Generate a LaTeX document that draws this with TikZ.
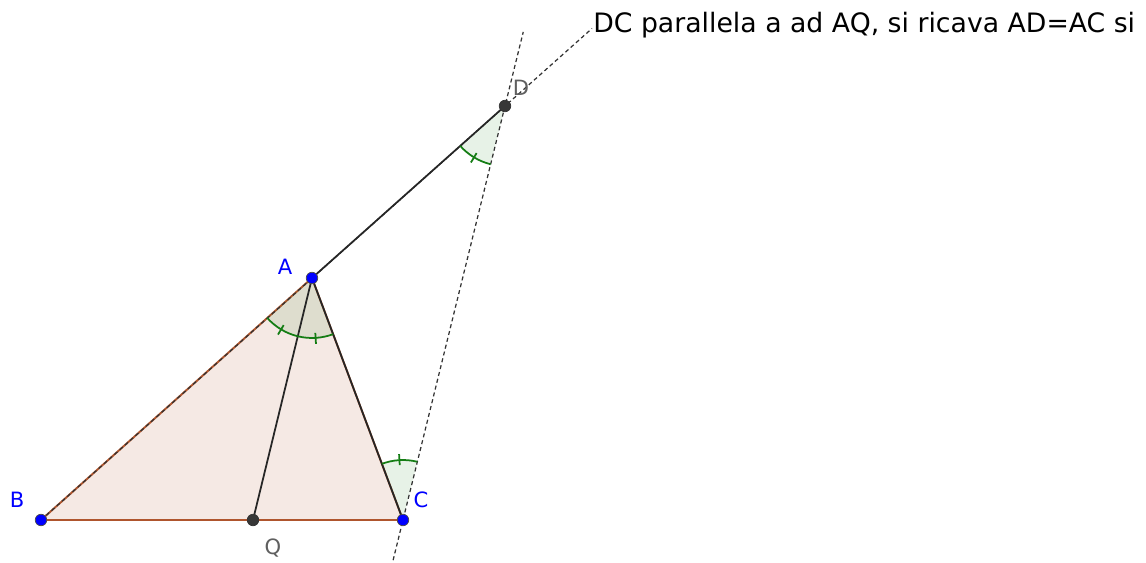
\documentclass[tikz,border=0pt]{standalone}
\usepackage{fontspec}
\setmainfont{DejaVu Sans}
\usetikzlibrary{calc}
\definecolor{polyedge}{RGB}{175,85,45}
\definecolor{polyfill}{RGB}{245,233,228}
\definecolor{anggreen}{RGB}{20,125,20}
\definecolor{ptblue}{RGB}{0,0,255}
\definecolor{ptgray}{RGB}{55,55,55}
\definecolor{lblgray}{RGB}{95,95,95}
\tikzset{
  aux/.style={dash pattern=on 2.3pt off 1.7pt, line width=0.7pt, black!80},
  seg/.style={line width=1pt, black!85},
  angfill/.style={fill=anggreen, fill opacity=0.1},
  angarc/.style={draw=anggreen, line width=1pt},
  lbl/.style={font=\fontsize{12pt}{14pt}\selectfont, inner sep=0pt},
}
\begin{document}
\begin{tikzpicture}[x=0.02cm, y=0.02cm]
  \useasboundingbox (0,0) rectangle (1146,562);
  % points
  \coordinate (A) at (312,284);
  \coordinate (B) at (41,42);
  \coordinate (C) at (403,42);
  \coordinate (Q) at (253,42);
  \coordinate (D) at (505,456);
  \coordinate (E) at ($(A)!1.451!(D)$);
  \coordinate (F) at ($(C)!1.179!(D)$);
  \coordinate (G) at ($(C)!-0.097!(D)$);
  % triangle
  \filldraw[fill=polyfill, draw=polyedge, line width=1.1pt] (B) -- (C) -- (A) -- cycle;
  % angles
  \foreach \p/\s/\e in {A/221.77/256.3, A/256.3/290.6, D/221.7/256.16, C/76.16/110.6}
    \fill[angfill] (\p) -- ++(\s:1.2cm) arc (\s:\e:1.2cm) -- cycle;
  % lines
  \draw[aux] (B) -- (E);
  \draw[aux] (G) -- (F);
  \draw[seg] (A) -- (D);
  \draw[seg] (A) -- (C);
  \draw[seg] (A) -- (Q);
  \foreach \p/\s/\e in {A/221.77/256.3, A/256.3/290.6, D/221.7/256.16, C/76.16/110.6}
    \draw[angarc] ($(\p)+(\s:1.2cm)$) arc (\s:\e:1.2cm);
  \foreach \p/\a in {A/239.0, A/273.45, D/238.9, C/93.4}
    \draw[angarc] ($(\p)+(\a:1.1cm)$) -- ($(\p)+(\a:1.32cm)$);
  % dots
  \foreach \p in {A,B,C}
    \filldraw[fill=ptblue, draw=black!70, line width=0.4pt] (\p) circle (0.115cm);
  \foreach \p in {Q,D}
    \filldraw[fill=ptgray, draw=black!80, line width=0.4pt] (\p) circle (0.115cm);
  % labels
  \node[lbl, text=ptblue] (lA) at (285,295) {A};
  \node[lbl, text=ptblue] (lB) at (17,62) {B};
  \node[lbl, text=ptblue] (lC) at (421,62) {C};
  \node[lbl, text=lblgray] (lD) at (521,474) {D};
  \node[lbl, text=lblgray] (lQ) at (273,14) {Q};
  \node[anchor=base west, inner sep=0pt, font=\fontsize{15.2pt}{18pt}\selectfont] (note) at (593,529) {DC parallela a ad AQ, si ricava AD=AC si};
\end{tikzpicture}
\end{document}
